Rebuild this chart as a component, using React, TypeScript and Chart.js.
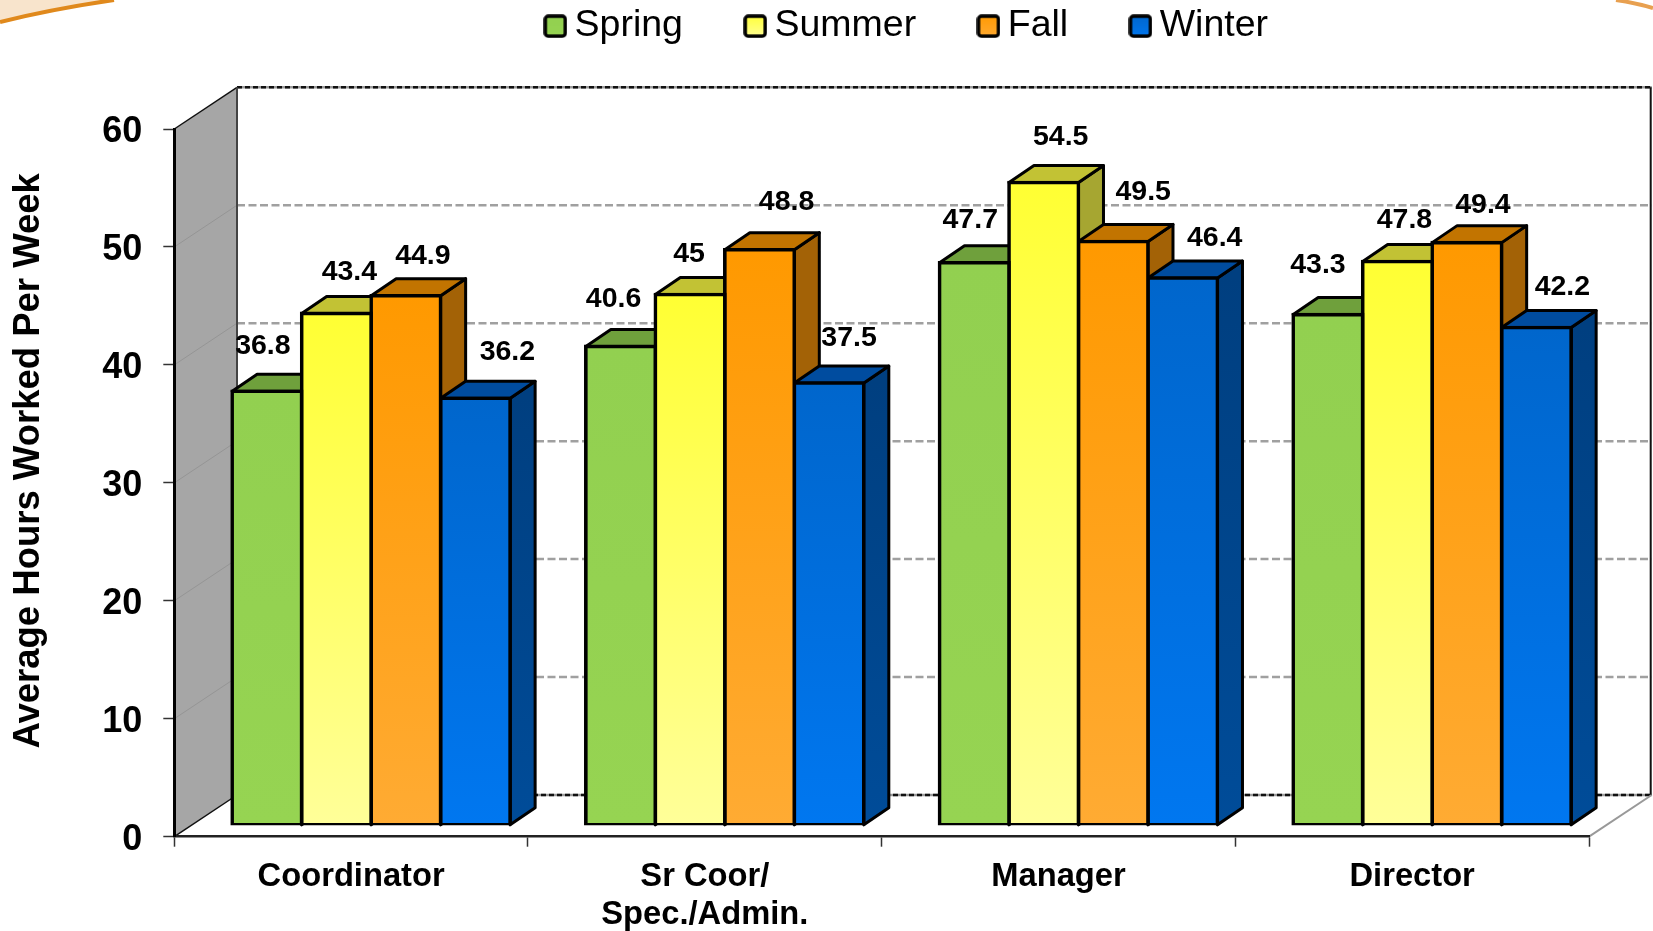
import React, { useEffect, useRef } from "react";
import { Chart, registerables } from "chart.js";

Chart.register(...registerables);

const categories: (string | string[])[] = ["Coordinator", ["Sr Coor/", "Spec./Admin."], "Manager", "Director"];
const spring = [36.8, 40.6, 47.7, 43.3];
const summer = [43.4, 45, 54.5, 47.8];
const fall = [44.9, 48.8, 49.5, 49.4];
const winter = [36.2, 37.5, 46.4, 42.2];
const yTitle = "Average Hours Worked Per Week";

const FONT = '"Liberation Sans", Arial, sans-serif';
const series = [
  { label: "Spring", data: spring, hi: "#92D050", lo: "#96D452", top: "#6FA03C", side: "#5F8A33", sideLo: "#5F8A33" },
  { label: "Summer", data: summer, hi: "#FFFF33", lo: "#FFFF99", top: "#C2C234", side: "#A6A631", sideLo: "#A6A631" },
  { label: "Fall", data: fall, hi: "#FF9900", lo: "#FFAB33", top: "#C27400", side: "#A36206", sideLo: "#A36206" },
  { label: "Winter", data: winter, hi: "#0066CC", lo: "#0077F0", top: "#004C9F", side: "#003F80", sideLo: "#004C99" },
];

// Depth of the 3-D box: walls sit behind the axes, bars sit part way in.
const WALL = { dx: 62.7, dy: 41.7 };
const BAR_PLANE = { dx: 20, dy: 11.4 };
const BAR_DEPTH = { dx: 25, dy: 17 };

// Label offsets from each bar's top centre, [series][category].
const labelNudge = [
  [[-4, -45], [-7, -47], [-4, -43], [-10, -49]],
  [[13, -41], [-1, -40], [17, -45], [7, -41]],
  [[17, -40], [27, -48], [30, -49], [16, -37]],
  [[32, -46], [20, -45], [32, -40], [26, -40]],
];

function poly(ctx: CanvasRenderingContext2D, pts: number[][], fill: any, stroke?: string, lw = 3) {
  ctx.beginPath();
  pts.forEach((p, i) => (i ? ctx.lineTo(p[0], p[1]) : ctx.moveTo(p[0], p[1])));
  ctx.closePath();
  if (fill) {
    ctx.fillStyle = fill;
    ctx.fill();
  }
  if (stroke) {
    ctx.strokeStyle = stroke;
    ctx.lineWidth = lw;
    ctx.lineJoin = "round";
    ctx.stroke();
  }
}

function seg(ctx: CanvasRenderingContext2D, a: number[], b: number[], color: string, lw: number, dash: number[] = []) {
  ctx.beginPath();
  ctx.setLineDash(dash);
  ctx.moveTo(a[0], a[1]);
  ctx.lineTo(b[0], b[1]);
  ctx.strokeStyle = color;
  ctx.lineWidth = lw;
  ctx.stroke();
  ctx.setLineDash([]);
}

function swatch(hi: string, lo: string) {
  const c = document.createElement("canvas");
  c.width = 24;
  c.height = 24;
  const g = c.getContext("2d")!;
  const grad = g.createLinearGradient(0, 0, 0, 24);
  grad.addColorStop(0, hi);
  grad.addColorStop(1, lo);
  g.beginPath();
  g.roundRect(2, 2, 20, 20, 3);
  g.fillStyle = grad;
  g.fill();
  g.lineWidth = 3.5;
  g.strokeStyle = "#000";
  g.stroke();
  return c;
}

const box3d = {
  id: "box3d",
  afterInit(chart: any) {
    const fit = chart.legend.fit;
    chart.legend.fit = function () {
      fit.call(this);
      this.height = 0;
    };
  },
  afterLayout(chart: any) {
    const lg = chart.legend;
    lg.left = 483;
    lg.right = 1653;
    lg.top = -64.4;
    lg.bottom = 70;
    const s = chart.scales.y;
    if (!s.__shifted) {
      const draw = s.drawTitle.bind(s);
      s.drawTitle = () => {
        chart.ctx.save();
        chart.ctx.translate(0, -22);
        draw();
        chart.ctx.restore();
      };
      s.__shifted = true;
    }
  },
  beforeDraw(chart: any) {
    const ctx: CanvasRenderingContext2D = chart.ctx;
    const { left, right } = chart.chartArea;
    const y = chart.scales.y;
    ctx.save();
    // page decoration in the corners
    poly(ctx, [[0, 0], [114, 0], [54, 10], [0, 22]], "#F8E4CC");
    ctx.beginPath();
    ctx.moveTo(0, 22);
    ctx.quadraticCurveTo(52, 9, 114, 0);
    ctx.strokeStyle = "#E0891C";
    ctx.lineWidth = 4;
    ctx.stroke();
    ctx.beginPath();
    ctx.moveTo(1616, 0);
    ctx.quadraticCurveTo(1636, 3, 1653, 8);
    ctx.strokeStyle = "#E8A050";
    ctx.lineWidth = 4;
    ctx.stroke();

    const y0 = y.getPixelForValue(0);
    const yTop = y.getPixelForValue(60);
    const bx = left + WALL.dx;
    const rx = right + WALL.dx;
    // side wall
    poly(ctx, [[left, y0], [left, yTop], [bx, yTop - WALL.dy], [bx, y0 - WALL.dy]], "#A6A6A6");
    // gridlines on walls
    (y.ticks as any[]).forEach((t) => {
      const p = y.getPixelForValue(t.value);
      const edge = t.value === 0 || t.value === 60;
      seg(ctx, [left, p], [bx, p - WALL.dy], edge ? "#111" : "#959595", edge ? 1.5 : 1);
      if (edge) {
        seg(ctx, [bx, p - WALL.dy], [rx, p - WALL.dy], "#9a9a9a", 2.5);
        seg(ctx, [bx, p - WALL.dy], [rx, p - WALL.dy], "#111", 2.5, [5, 3]);
      } else {
        seg(ctx, [bx, p - WALL.dy], [rx, p - WALL.dy], "#A0A0A0", 2.5, [8, 3.5]);
      }
    });
    seg(ctx, [bx, yTop - WALL.dy], [bx, y0 - WALL.dy], "#444", 2);
    seg(ctx, [rx - 1, yTop - WALL.dy], [rx - 1, y0 - WALL.dy], "#111", 2);
    seg(ctx, [right, y0], [rx, y0 - WALL.dy], "#999", 2);
    ctx.restore();
  },
  beforeDatasetsDraw(chart: any) {
    const ctx: CanvasRenderingContext2D = chart.ctx;
    ctx.save();
    categories.forEach((_, j) => {
      series.forEach((s, i) => {
        const el = chart.getDatasetMeta(i).data[j];
        const L = el.x - el.width / 2 + BAR_PLANE.dx;
        const R = el.x + el.width / 2 + BAR_PLANE.dx;
        const T = el.y - BAR_PLANE.dy;
        const B = el.base - BAR_PLANE.dy;
        const { dx, dy } = BAR_DEPTH;
        const g = ctx.createLinearGradient(0, T, 0, B);
        g.addColorStop(0, s.side);
        g.addColorStop(1, s.sideLo);
        poly(ctx, [[R, T], [R + dx, T - dy], [R + dx, B - dy], [R, B]], g, "#000");
        poly(ctx, [[L, T], [L + dx, T - dy], [R + dx, T - dy], [R, T]], s.top, "#000");
      });
    });
    ctx.restore();
    ctx.save();
    ctx.translate(BAR_PLANE.dx, -BAR_PLANE.dy);
  },
  afterDatasetsDraw(chart: any) {
    const ctx: CanvasRenderingContext2D = chart.ctx;
    ctx.restore();
    ctx.save();
    ctx.fillStyle = "#000";
    ctx.font = `bold 28.5px ${FONT}`;
    ctx.textAlign = "center";
    ctx.textBaseline = "middle";
    series.forEach((s, i) => {
      const meta = chart.getDatasetMeta(i);
      s.data.forEach((v, j) => {
        const el = meta.data[j];
        const n = labelNudge[i][j];
        ctx.fillText(String(v), el.x + BAR_PLANE.dx + n[0], el.y - BAR_PLANE.dy + n[1]);
      });
    });
    ctx.restore();
  },
};

export default function App() {
  const ref = useRef<HTMLCanvasElement | null>(null);
  useEffect(() => {
    document.body.style.margin = "0";
    const swatches = series.map((s) => swatch(s.hi, s.lo));
    const chart = new Chart(ref.current!, {
      type: "bar",
      data: {
        labels: categories as any,
        datasets: series.map((s) => ({
          label: s.label,
          data: s.data,
          borderColor: "#000",
          borderWidth: 3.6,
          borderSkipped: false,
          inflateAmount: 1.8,
          barPercentage: 1,
          categoryPercentage: 0.786,
          backgroundColor: (c: any) => {
            if (c.type !== "data" || !c.chart.scales.y) return s.hi;
            const sc = c.chart.scales.y;
            const a = sc.getPixelForValue(c.raw);
            const b = sc.getPixelForValue(0);
            if (!Number.isFinite(a) || !Number.isFinite(b)) return s.hi;
            const g = c.chart.ctx.createLinearGradient(0, a, 0, b);
            g.addColorStop(0, s.hi);
            g.addColorStop(1, s.lo);
            return g;
          },
        })),
      },
      options: {
        responsive: false,
        animation: false,
        layout: { padding: { top: 129, right: 64, left: 0, bottom: 0 } },
        plugins: {
          tooltip: { enabled: false },
          legend: {
            position: "top",
            align: "start",
            labels: {
              usePointStyle: true,
              boxWidth: 1,
              padding: 71.8,
              color: "#000",
              font: { family: FONT, size: 37.5 },
              generateLabels: (c: any) =>
                Chart.defaults.plugins.legend.labels.generateLabels(c).map((it: any, i: number) => ({
                  ...it,
                  pointStyle: swatches[i],
                })),
            },
          },
        },
        scales: {
          x: {
            afterFit: (s: any) => {
              s.height = 94.3;
            },
            border: { color: "#222", width: 2.5 },
            grid: { drawOnChartArea: false, tickLength: 10, tickColor: "#333", tickWidth: 1.5 },
            ticks: {
              autoSkip: false,
              maxRotation: 0,
              padding: 11,
              color: "#000",
              font: { family: FONT, size: 32.7, weight: "bold", lineHeight: 1.17 },
            },
          },
          y: {
            min: 0,
            max: 60,
            afterFit: (s: any) => {
              s.width = 174.3;
            },
            border: { color: "#000", width: 3 },
            grid: { drawOnChartArea: false, tickLength: 11, tickColor: "#333", tickWidth: 1.5 },
            ticks: {
              stepSize: 10,
              padding: 21,
              labelOffset: 3,
              color: "#000",
              font: { family: FONT, size: 36, weight: "bold" },
            },
            title: {
              display: true,
              text: yTitle,
              color: "#000",
              padding: { top: 7, bottom: 0 },
              font: { family: FONT, size: 36.5, weight: "bold", lineHeight: 1.2 },
            },
          },
        },
      } as any,
      plugins: [box3d as any],
    });
    return () => chart.destroy();
  }, []);
  return <canvas ref={ref} width={1653} height={931} style={{ position: "absolute", left: 0, top: 0, display: "block" }} />;
}
